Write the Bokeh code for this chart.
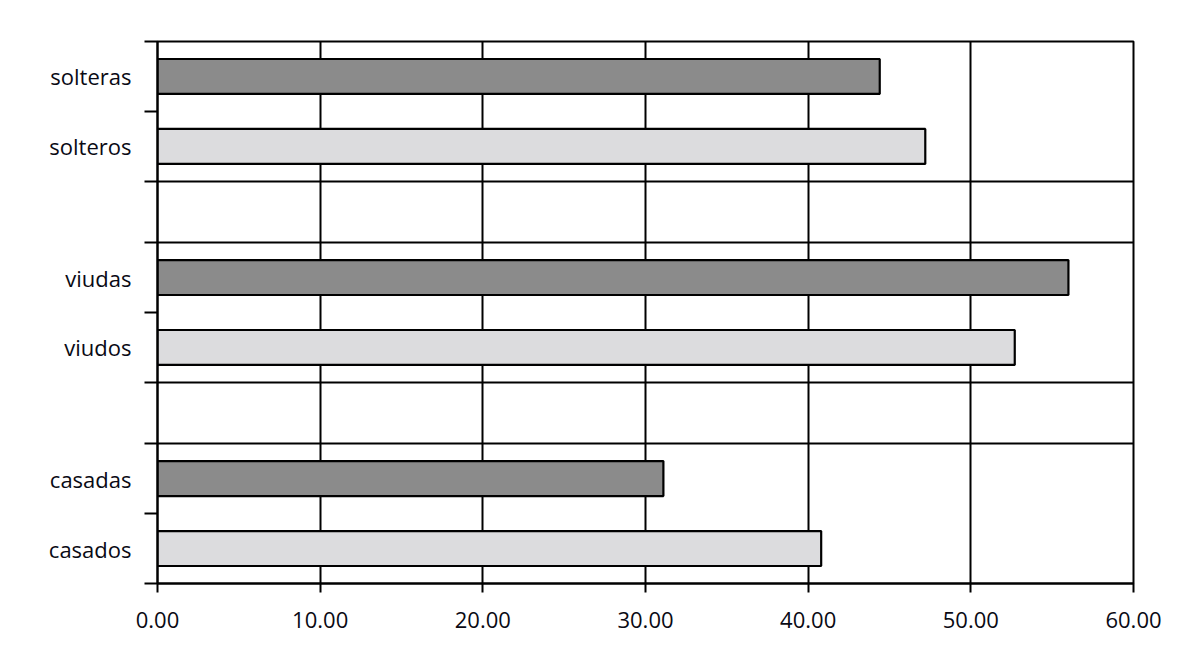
from bokeh.plotting import figure
from bokeh.models import Range1d, FixedTicker, ColumnDataSource
from bokeh.embed import file_html
from bokeh.resources import INLINE

# ---- data (top to bottom) ----
labels = ["solteras", "solteros", "viudas", "viudos", "casadas", "casados"]
values = [44.4, 47.2, 56.0, 52.7, 31.1, 40.8]
sexes = ["f", "m", "f", "m", "f", "m"]
x_ticks = [0, 10, 20, 30, 40, 50, 60]
x_tick_labels = ["0.00", "10.00", "20.00", "30.00", "40.00", "50.00", "60.00"]

# ---- layout (computed) ----
GAP = 0.875
n_groups = len(labels) // 2
total = n_groups * 2 + (n_groups - 1) * GAP

centers = []
for i, lab in enumerate(labels):
    g = n_groups - 1 - i // 2          # group index from bottom
    base = g * (2 + GAP)
    k = 1 if sexes[i] == "f" else 0     # female bar above male bar
    centers.append(base + k + 0.5)

boundaries = []
grid_lines = []
for g in range(n_groups):
    base = g * (2 + GAP)
    boundaries += [base, base + 1, base + 2]
    if g > 0:
        grid_lines.append(base)
    if g < n_groups - 1:
        grid_lines.append(base + 2)

colors = ["#8b8b8b" if s == "f" else "#dcdcde" for s in sexes]
src = ColumnDataSource(dict(y=centers, right=values, color=colors))

p = figure(frame_width=976, frame_height=542,
           min_border_left=157, min_border_right=43,
           min_border_top=41, min_border_bottom=57,
           x_range=Range1d(0, 60), y_range=Range1d(0, total),
           output_backend="svg", toolbar_location=None,
           background_fill_color="white", border_fill_color="white")

p.hbar(y="y", left=0, right="right", height=0.5, source=src,
       fill_color="color", line_color="black", line_width=2.2)

# outline
p.outline_line_color = "black"
p.outline_line_width = 2
p.outline_line_alpha = 1

# grids
p.xgrid.ticker = FixedTicker(ticks=x_ticks[1:-1])
p.xgrid.grid_line_color = "black"
p.xgrid.grid_line_width = 2
p.ygrid.ticker = FixedTicker(ticks=grid_lines)
p.ygrid.grid_line_color = "black"
p.ygrid.grid_line_width = 2

font = "Open Sans"
# x axis
xa = p.xaxis[0]
xa.ticker = FixedTicker(ticks=x_ticks)
xa.major_label_overrides = {float(t): l for t, l in zip(x_ticks, x_tick_labels)}
xa.major_tick_in = 0
xa.major_tick_out = 9
xa.major_tick_line_width = 2
xa.major_tick_line_color = "black"
xa.minor_tick_line_color = None
xa.axis_line_color = "black"
xa.axis_line_width = 2
xa.major_label_text_font = font
xa.major_label_text_font_size = "22px"
xa.major_label_text_color = "#0a0a14"
xa.major_label_standoff = 19

# y axis
ya = p.yaxis[0]
ya.ticker = FixedTicker(ticks=centers, minor_ticks=boundaries)
ya.major_label_overrides = {float(c): l for c, l in zip(centers, labels)}
ya.major_tick_in = 0
ya.major_tick_out = 0
ya.minor_tick_in = 0
ya.minor_tick_out = 13
ya.minor_tick_line_width = 2
ya.minor_tick_line_color = "black"
ya.axis_line_color = "black"
ya.axis_line_width = 2
ya.major_label_text_font = font
ya.major_label_text_font_size = "22px"
ya.major_label_text_color = "#0a0a14"
ya.major_label_standoff = 13

open("out.html", "w").write(file_html(p, INLINE))
